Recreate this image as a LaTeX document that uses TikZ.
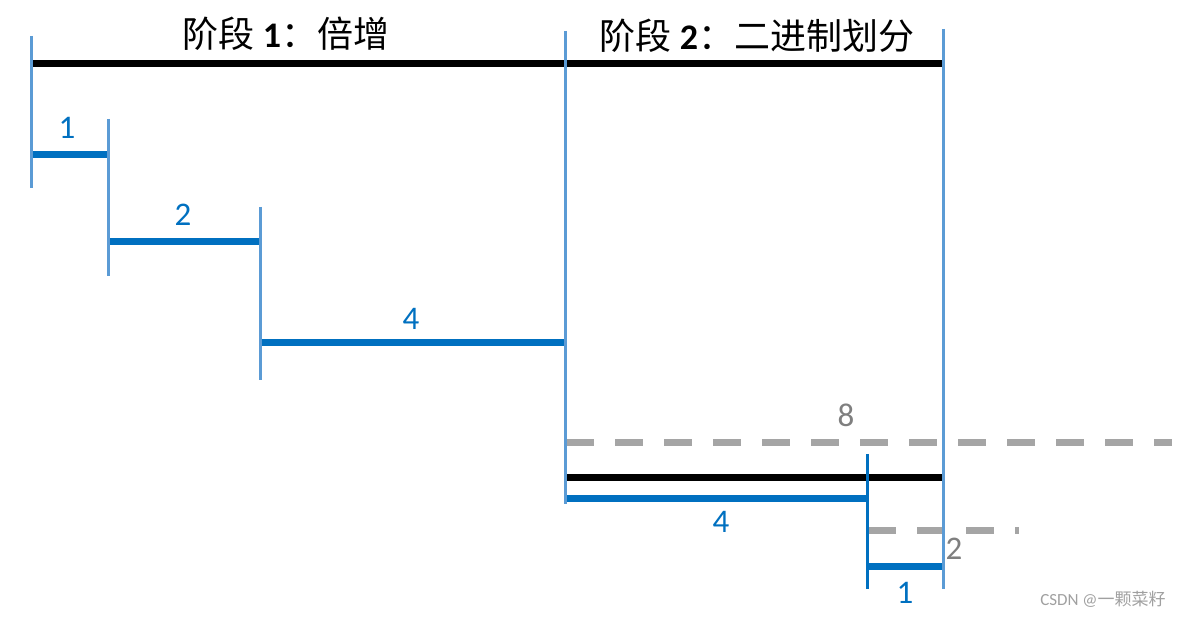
\documentclass[tikz,border=0pt]{standalone}
\usepackage{fontspec}
\setmainfont{Carlito}
\newfontfamily\cjk{Noto Sans CJK SC}
\definecolor{tickblue}{HTML}{5B9BD5}
\definecolor{segblue}{HTML}{0070C0}
\definecolor{dashgray}{HTML}{A5A5A5}
\definecolor{labgray}{HTML}{7F7F7F}
\definecolor{wmgray}{HTML}{A0A0A0}
\tikzset{
  tickline/.style={draw=tickblue, line width=3pt},
  darktick/.style={draw=segblue, line width=3pt},
  segline/.style={draw=segblue, line width=7pt},
  blackline/.style={draw=black, line width=7pt},
  grayline/.style={draw=dashgray, line width=7pt, dash pattern=on 28pt off 21pt},
  numlab/.style={font=\fontsize{33}{36}\selectfont, text=segblue, inner sep=0pt},
  graylab/.style={font=\fontsize{33}{36}\selectfont, text=labgray, inner sep=0pt},
  titlelab/.style={font=\fontsize{36}{40}\selectfont, text=black, inner sep=0pt},
  wmlab/.style={font=\fontsize{17}{20}\selectfont, text=wmgray, inner sep=0pt}
}
\begin{document}
\begin{tikzpicture}[x=1pt,y=-1pt]
\useasboundingbox (0,0) rectangle (1187,617);
% tick coordinates
\coordinate (a0) at (31,36);   \coordinate (a1) at (31,188);
\coordinate (b0) at (108,119); \coordinate (b1) at (108,276);
\coordinate (c0) at (260,207); \coordinate (c1) at (260,380);
\coordinate (d0) at (565,31);  \coordinate (d1) at (565,504);
\coordinate (e0) at (943,29);  \coordinate (e1) at (943,589);
\coordinate (f0) at (867,454); \coordinate (f1) at (867,589);
% horizontal coordinates
\coordinate (topL) at (31,64);   \coordinate (topR) at (943,64);
\coordinate (s1L) at (31,154.5); \coordinate (s1R) at (108,154.5);
\coordinate (s2L) at (108,242);  \coordinate (s2R) at (260,242);
\coordinate (s4L) at (260,343);  \coordinate (s4R) at (565,343);
\coordinate (g8L) at (566,442.5);  \coordinate (g8R) at (1172,442.5);
\coordinate (lbL) at (565,477.5);  \coordinate (lbR) at (943,477.5);
\coordinate (l4L) at (565,498.5);  \coordinate (l4R) at (867,498.5);
\coordinate (g2L) at (868,531);  \coordinate (g2R) at (1019,531);
\coordinate (l1L) at (867,566);  \coordinate (l1R) at (943,566);
% lines
\draw[blackline] (topL) -- (topR);
\draw[blackline] (lbL) -- (lbR);
\draw[grayline] (g8L) -- (g8R);
\draw[grayline] (g2L) -- (g2R);
\draw[segline] (s1L) -- (s1R);
\draw[segline] (s2L) -- (s2R);
\draw[segline] (s4L) -- (s4R);
\draw[segline] (l4L) -- (l4R);
\draw[segline] (l1L) -- (l1R);
\draw[tickline] (a0) -- (a1);
\draw[tickline] (b0) -- (b1);
\draw[tickline] (c0) -- (c1);
\draw[tickline] (d0) -- (d1);
\draw[tickline] (e0) -- (e1);
\draw[darktick] (f0) -- (f1);
% labels
\node[titlelab] (t1) at (286,34) {{\cjk 阶段} \textbf{1}{\cjk ：倍增}};
\node[titlelab] (t2) at (757,36) {{\cjk 阶段} \textbf{2}{\cjk ：二进制划分}};
\node[numlab] (n1) at (67,128) {1};
\node[numlab] (n2) at (183,215) {2};
\node[numlab] (n4) at (411,319) {4};
\node[graylab] (n8) at (846,415) {8};
\node[numlab] (m4) at (721,522) {4};
\node[graylab] (m2) at (954,549) {2};
\node[numlab] (m1) at (905,593) {1};
\node[wmlab] (wm) at (1103,599) {CSDN @{\cjk 一颗菜籽}};
\end{tikzpicture}
\end{document}
